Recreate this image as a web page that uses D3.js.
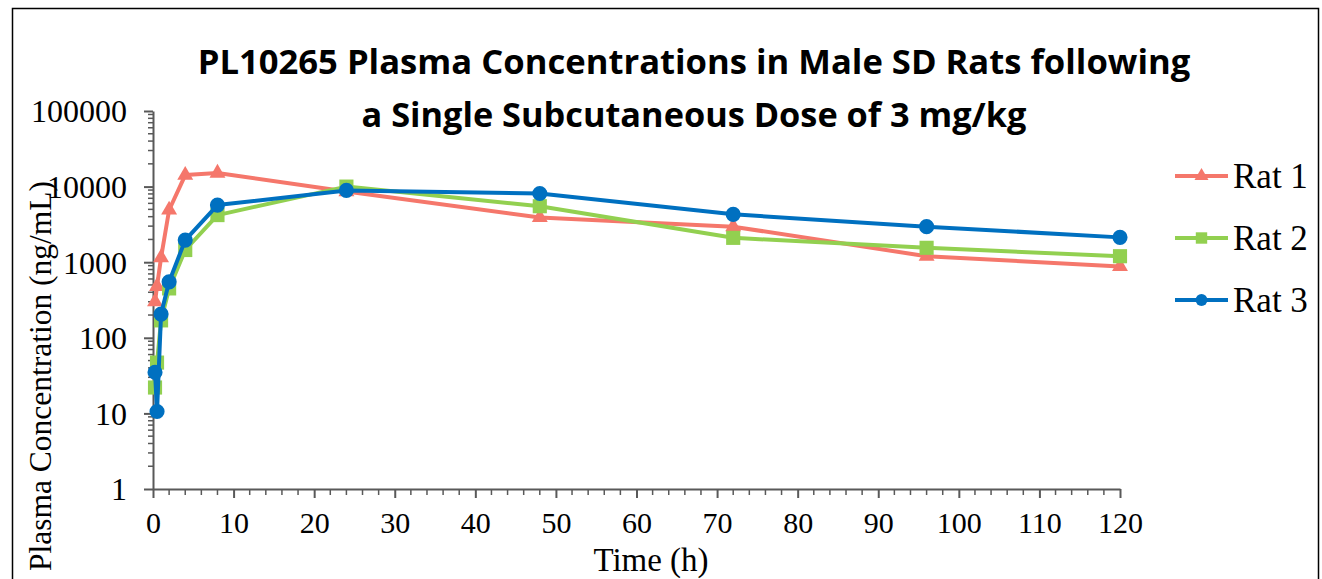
<!DOCTYPE html>
<html>
<head>
<meta charset="utf-8">
<script src="https://cdn.jsdelivr.net/npm/d3@7"></script>
<style>
  body { margin: 0; background: #fff; }
  svg { display: block; }
</style>
</head>
<body>
<svg width="1322" height="579"></svg>
<script>
var times = [0.25, 0.5, 1, 2, 4, 8, 24, 48, 72, 96, 120];
var rat1 = [300, 480, 1150, 4900, 14200, 15100, 8600, 3900, 2950, 1200, 880];
var rat2 = [22, 47, 170, 450, 1450, 4200, 10000, 5500, 2100, 1550, 1200];
var rat3 = [35, 10.6, 206, 550, 1960, 5700, 8900, 8100, 4300, 2950, 2130];
var seriesNames = ["Rat 1", "Rat 2", "Rat 3"];
var seriesColors = ["#F5776B", "#92D050", "#0070C0"];
var seriesShapes = ["triangle", "square", "circle"];
var yTickValues = [1, 10, 100, 1000, 10000, 100000];
var xTickValues = [0, 10, 20, 30, 40, 50, 60, 70, 80, 90, 100, 110, 120];
var titleLines = ["PL10265 Plasma Concentrations in Male SD Rats following",
                  "a Single Subcutaneous Dose of 3 mg/kg"];

function init() {
    var svg = d3.select("svg"),
        margin = {top: 111, left: 153},
        width = 967,
        height = 378;

    var serif = "'Liberation Serif', 'Times New Roman', serif";
    var axisColor = "#595959";

    // outer frame
    svg.append("rect")
        .attr("x", 12.5).attr("y", 8.5)
        .attr("width", 1306).attr("height", 600)
        .attr("fill", "none")
        .attr("stroke", "#000")
        .attr("stroke-width", 1.5);

    var x = d3.scaleLinear().domain([0, 120]).range([0, width]),
        y = d3.scaleLog().domain([1, 100000]).range([height, 0]);

    var g = svg.append("g")
        .attr("transform", "translate(" + margin.left + "," + margin.top + ")");

    // minor ticks
    var yMinor = [];
    for (var e = 0; e < 5; e++) {
        for (var m = 2; m <= 9; m++) yMinor.push(m * Math.pow(10, e));
    }
    var xMinor = d3.range(0, 121, 2).filter(function(d) { return d % 10 !== 0; });

    g.append("g").selectAll("line").data(yMinor).enter().append("line")
        .attr("x1", -5).attr("x2", 0)
        .attr("y1", function(d) { return y(d); })
        .attr("y2", function(d) { return y(d); })
        .attr("stroke", axisColor).attr("stroke-width", 1.5);

    g.append("g").selectAll("line").data(xMinor).enter().append("line")
        .attr("y1", height).attr("y2", height + 6)
        .attr("x1", function(d) { return x(d); })
        .attr("x2", function(d) { return x(d); })
        .attr("stroke", axisColor).attr("stroke-width", 1.5);

    var yAxis = d3.axisLeft(y)
        .tickValues(yTickValues)
        .tickFormat(d3.format("d"))
        .tickSizeInner(9).tickSizeOuter(0).tickPadding(17);

    var xAxis = d3.axisBottom(x)
        .tickValues(xTickValues)
        .tickSizeInner(9).tickSizeOuter(0).tickPadding(13);

    var ya = g.append("g").call(yAxis);
    var xa = g.append("g").attr("transform", "translate(0," + height + ")").call(xAxis);

    [ya, xa].forEach(function(a) {
        a.select(".domain").attr("stroke", axisColor).attr("stroke-width", 2);
        a.selectAll(".tick line").attr("stroke", axisColor).attr("stroke-width", 2);
        a.selectAll(".tick text")
            .attr("fill", "#000")
            .style("font-family", serif);
    });
    ya.selectAll(".tick text").attr("dy", "0.34em").style("font-size", "32px");
    xa.selectAll(".tick text").attr("dy", "0.72em").style("font-size", "30px");

    // series
    var symbolTypes = {triangle: d3.symbolTriangle, square: d3.symbolSquare, circle: d3.symbolCircle};
    var symbolSizes = {triangle: 110, square: 200, circle: 180};
    var legendSizes = {triangle: 85, square: 130, circle: 110};
    var allData = [rat1, rat2, rat3];

    var line = d3.line()
        .x(function(d) { return x(d.t); })
        .y(function(d) { return y(d.v); });

    allData.forEach(function(vals, i) {
        var pts = times.map(function(t, k) { return {t: t, v: vals[k]}; });
        var sg = g.append("g");
        sg.append("path")
            .datum(pts)
            .attr("d", line)
            .attr("fill", "none")
            .attr("stroke", seriesColors[i])
            .attr("stroke-width", 4)
            .attr("stroke-linejoin", "round");
        sg.selectAll("path.pt").data(pts).enter().append("path")
            .attr("class", "pt")
            .attr("transform", function(d) { return "translate(" + x(d.t) + "," + y(d.v) + ")"; })
            .attr("d", d3.symbol().type(symbolTypes[seriesShapes[i]]).size(symbolSizes[seriesShapes[i]]))
            .attr("fill", seriesColors[i]);
    });

    // legend
    var legendY = [176, 238, 300];
    var lg = svg.append("g");
    seriesNames.forEach(function(name, i) {
        var row = lg.append("g").attr("transform", "translate(1175," + legendY[i] + ")");
        row.append("line")
            .attr("x1", 0).attr("x2", 53)
            .attr("stroke", seriesColors[i]).attr("stroke-width", 4);
        row.append("path")
            .attr("transform", "translate(26.5,0)")
            .attr("d", d3.symbol().type(symbolTypes[seriesShapes[i]]).size(legendSizes[seriesShapes[i]]))
            .attr("fill", seriesColors[i]);
        row.append("text")
            .attr("x", 58).attr("dy", "0.34em")
            .style("font-family", serif)
            .style("font-size", "35px")
            .text(name);
    });

    // axis titles
    svg.append("text")
        .attr("x", 651).attr("y", 571)
        .attr("text-anchor", "middle")
        .style("font-family", serif)
        .style("font-size", "33px")
        .text("Time (h)");

    svg.append("text")
        .attr("transform", "translate(51,376) rotate(-90)")
        .attr("text-anchor", "middle")
        .style("font-family", serif)
        .style("font-size", "31.5px")
        .text("Plasma Concentration (ng/mL)");

    // title
    var titleTargets = [993, 665];
    var titleBase = [74, 127];
    titleLines.forEach(function(txt, i) {
        var t = svg.append("text")
            .attr("x", 694).attr("y", titleBase[i])
            .attr("text-anchor", "middle")
            .style("font-family", "'Open Sans', 'Noto Sans', sans-serif")
            .style("font-weight", "bold")
            .style("font-size", "34px")
            .text(txt);
        var len = t.node().getComputedTextLength();
        if (len > 0) t.style("font-size", (34 * titleTargets[i] / len).toFixed(2) + "px");
    });
}
init();
</script>
</body>
</html>
